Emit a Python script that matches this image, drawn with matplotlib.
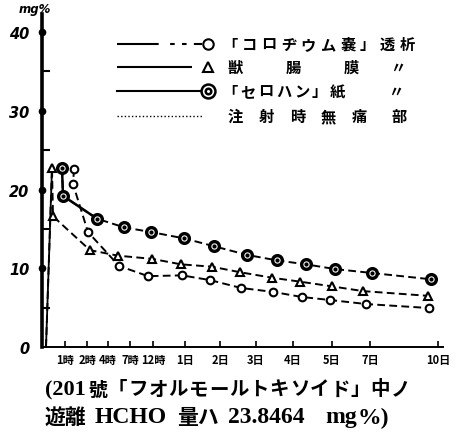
import matplotlib
matplotlib.use("Agg")
import matplotlib.pyplot as plt
from matplotlib.lines import Line2D

# x axis is a stretched time scale: positions of the printed ticks
tick_pos = [2.3, 4.5, 6.6, 8.8, 11.1, 14.3, 17.8, 21.4, 25.1, 29.0, 32.8, 39.6]
tick_labels = ["1時", "2時", "4時", "7時", "12時", "1日", "2日", "3日", "4日", "5日", "7日", "10日"]

# 「コロヂウム嚢」透析 (open circle)
circle_x = [3.2, 3.1, 4.6, 7.7, 10.6, 14.0, 16.8, 19.9, 23.1, 26.0, 28.8, 32.4, 38.7]
circle_y = [22.6, 20.7, 14.6, 10.3, 9.0, 9.1, 8.5, 7.5, 7.0, 6.35, 5.97, 5.46, 4.95]

# 獣腸膜 (triangle), rising from the axis
tri_x = [0.4, 1.0, 1.1, 4.8, 7.6, 11.0, 13.9, 17.0, 19.8, 23.0, 25.8, 29.0, 32.1, 38.6]
tri_y = [0.0, 22.8, 16.6, 12.3, 11.6, 11.2, 10.5, 10.2, 9.5, 8.8, 8.3, 7.7, 7.1, 6.5]

# 「セロハン」紙 (double circle)
cello_x = [2.0, 2.1, 5.5, 8.2, 10.9, 14.2, 17.2, 20.5, 23.5, 26.4, 29.3, 33.0, 38.9]
cello_y = [22.7, 19.2, 16.3, 15.2, 14.6, 13.8, 12.8, 11.7, 11.0, 10.5, 9.9, 9.4, 8.6]

y_major = [10, 20, 30, 40]
y_minor = [5, 15, 25, 35]

W, H = 457, 439
CJK = ["Noto Sans CJK JP", "DejaVu Sans"]
SERIF = ["Liberation Serif", "Noto Sans CJK JP"]


def px(x, y):
    return x / W, 1 - y / H


fig = plt.figure(figsize=(W / 100, H / 100), dpi=100)
ax = fig.add_axes([42 / W, 1 - 348 / H, 401 / W, 333 / H])
ax.set_xlim(0, 40.1)
ax.set_ylim(0, 42.3)
for s in ["top", "right"]:
    ax.spines[s].set_visible(False)
ax.spines["left"].set_linewidth(2.6)
ax.spines["bottom"].set_linewidth(1.4)

dash = (0, (4, 2.2))
ax.plot(circle_x, circle_y, color="black", lw=1.4, ls=dash)
ax.plot(tri_x, tri_y, color="black", lw=1.4, ls=dash)
ax.plot(tri_x[:2], tri_y[:2], color="black", lw=1.3)
ax.plot(cello_x, cello_y, color="black", lw=1.4, ls=dash)
ax.plot(cello_x[:3], cello_y[:3], color="black", lw=1.8, solid_capstyle="round")

ax.plot(circle_x, circle_y, ls="none", marker="o", ms=5.5, mfc="white", mec="black", mew=1.5)
ax.plot(tri_x[1:], tri_y[1:], ls="none", marker="^", ms=6, mfc="white", mec="black", mew=1.5)
ax.plot(cello_x, cello_y, ls="none", marker="o", ms=7, mfc="white", mec="black", mew=2.4)
ax.plot(cello_x, cello_y, ls="none", marker="o", ms=2, mfc="black", mec="black")

# dots on the y axis at the labelled values
ax.plot([0] * len(y_major), y_major, ls="none", marker="o", ms=4.5, color="black", clip_on=False)

ax.set_xticks(tick_pos)
ax.set_xticklabels(tick_labels, family=CJK, fontsize=8, weight="bold")
ax.tick_params(axis="x", direction="in", length=4, width=1.2, pad=4)
ax.set_yticks([0] + y_major)
ax.set_yticklabels(["0"] + [str(v) for v in y_major], fontsize=10.5, weight="bold", style="italic")
ax.set_yticks(y_minor, minor=True)
ax.tick_params(axis="y", which="major", length=0, pad=9)
ax.tick_params(axis="y", which="minor", direction="in", length=6, width=1.5)

fig.text(*px(19, 10), "mg%", fontsize=8.5, weight="bold", style="italic", va="center")

# hand drawn legend
rows_y = [45, 68, 92, 117]
styles = [
    (0, (20, 5.5, 2.2, 3.5, 2.2, 3.5, 24)),
    (0, (36, 6, 19, 50)),
    "-",
    (0, (1, 1.6)),
]
for yy, st in zip(rows_y, styles):
    lw = 1.0 if st == (0, (1, 1.6)) else 1.5
    fig.add_artist(Line2D([117 / W, 202 / W], [1 - yy / H] * 2, transform=fig.transFigure,
                          color="black", lw=lw, ls=st))
fig.add_artist(Line2D([208 / W], [1 - rows_y[0] / H], transform=fig.transFigure, marker="o",
                      ms=7.5, mfc="white", mec="black", mew=1.5))
fig.add_artist(Line2D([208 / W], [1 - rows_y[1] / H], transform=fig.transFigure, marker="^",
                      ms=7, mfc="white", mec="black", mew=1.5))
fig.add_artist(Line2D([208 / W], [1 - rows_y[2] / H], transform=fig.transFigure, marker="o",
                      ms=10, mfc="white", mec="black", mew=1.8))
fig.add_artist(Line2D([208 / W], [1 - rows_y[2] / H], transform=fig.transFigure, marker="o",
                      ms=4, mfc="white", mec="black", mew=1.8))


def put_chars(chars, xs, y, size=11, family=CJK):
    for c, x in zip(chars, xs):
        fig.text(*px(x, y), c, family=family, fontsize=size, weight="bold", ha="left", va="center")


put_chars("「コロヂウム嚢」透析", [222 + i * 19.7 for i in range(10)], rows_y[0])
put_chars("獣腸膜〃", [228, 286, 344, 390], rows_y[1])
put_chars("「セロハン」紙〃", [222 + i * 18 for i in range(7)] + [388], rows_y[2])
put_chars("注射時無痛部", [228, 259, 290, 321, 352, 392], rows_y[3])

# caption under the chart
put_chars(["(201"], [45], 390, size=16, family=SERIF)
put_chars("號", [88], 390, size=13.5)
put_chars("「フオルモールトキソイド」中ノ", [108 + i * 20.2 for i in range(15)], 390, size=14)
put_chars(["遊離", "量ハ"], [45, 177], 418, size=15)
put_chars(["HCHO", "23.8464", "mg", "%)"], [95, 228, 325, 358], 418, size=17, family=SERIF)

fig.savefig("out.png", dpi=100)
